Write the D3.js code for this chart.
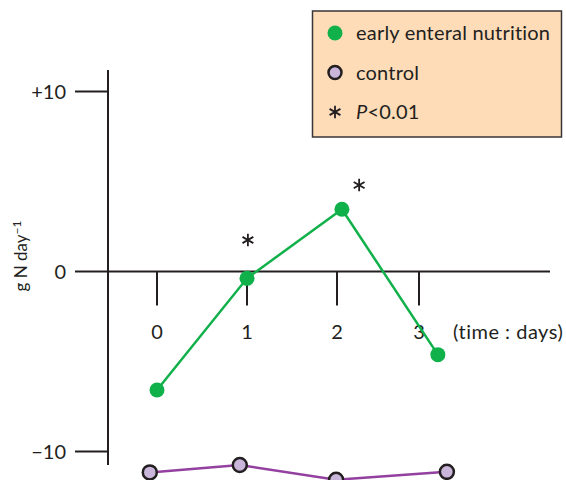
<!DOCTYPE html>
<html>
<head>
<meta charset="utf-8">
<script src="https://cdn.jsdelivr.net/npm/d3@7"></script>
<style>
    body { margin: 0; background: #ffffff; }
    svg { display: block; }
    text { font-family: Lato, "DejaVu Sans", sans-serif; fill: #231f20; }
</style>
</head>
<body>
<svg id="chart" width="566" height="480"></svg>
<script>
// data (time in days, g N per day)
let earlyDays   = [0, 1.0, 2.06, 3.23];
let earlyValues = [-6.58, -0.38, 3.46, -4.62];
let controlDays   = [-0.08, 0.92, 1.99, 3.34];
let controlValues = [-11.16, -10.75, -11.57, -11.13];
// significance markers
let sigDays   = [1.01, 2.27];
let sigValues = [1.75, 4.8];
// axis ticks
let xTicks = [0, 1, 2, 3];
let yTicks = [10, 0, -10];
let yTickLabels = ["+10", "0", "\u221210"];

let legendItems = ["early enteral nutrition", "control", "P<0.01"];

let chart = d3.select("#chart");
let ink = "#231f20";
let green = "#10b04a";
let purple = "#9440a0";

// x position scale (ticks are not evenly spaced in the original)
let x = d3.scaleLinear()
    .domain([0, 1, 2, 3])
    .range([157, 247, 337, 419]);

// y position scale
let y = d3.scaleLinear()
    .domain([-10, 10])
    .range([451.5, 91.5]);

// y axis line
chart.append("line")
    .attr("x1", 108).attr("x2", 108)
    .attr("y1", 70).attr("y2", 465)
    .attr("stroke", ink)
    .attr("stroke-width", 2);

// y ticks (the 0 tick is part of the x axis line)
chart.selectAll(".ytick")
    .data(yTicks.filter(function(d) { return d != 0; }))
    .enter()
    .append("line")
    .attr("class", "ytick")
    .attr("x1", 75).attr("x2", 108)
    .attr("y1", function(d) { return y(d); })
    .attr("y2", function(d) { return y(d); })
    .attr("stroke", ink)
    .attr("stroke-width", 2);

chart.selectAll(".ylabel")
    .data(yTicks)
    .enter()
    .append("text")
    .attr("class", "ylabel")
    .attr("x", 66)
    .attr("y", function(d) { return y(d); })
    .attr("dy", "0.36em")
    .style("font-size", "20px")
    .style("text-anchor", "end")
    .text(function(d, i) { return yTickLabels[i]; });

// x axis line at zero
chart.append("line")
    .attr("x1", 75).attr("x2", 550)
    .attr("y1", y(0)).attr("y2", y(0))
    .attr("stroke", ink)
    .attr("stroke-width", 2);

chart.selectAll(".xtick")
    .data(xTicks)
    .enter()
    .append("line")
    .attr("class", "xtick")
    .attr("x1", function(d) { return x(d); })
    .attr("x2", function(d) { return x(d); })
    .attr("y1", y(0))
    .attr("y2", y(0) + 34)
    .attr("stroke", ink)
    .attr("stroke-width", 2);

chart.selectAll(".xlabel")
    .data(xTicks)
    .enter()
    .append("text")
    .attr("class", "xlabel")
    .attr("x", function(d) { return x(d); })
    .attr("y", 332)
    .attr("dy", "0.36em")
    .style("font-size", "20px")
    .style("text-anchor", "middle")
    .text(function(d) { return d; });

chart.append("text")
    .attr("x", 453)
    .attr("y", 332)
    .attr("dy", "0.36em")
    .style("font-size", "20px")
    .style("letter-spacing", "0.5px")
    .text("(time : days)");

// y axis title
let ytitle = chart.append("text")
    .attr("transform", "translate(27,256) rotate(-90)")
    .style("font-size", "17px")
    .style("text-anchor", "middle");
ytitle.append("tspan").text("g N day");
ytitle.append("tspan")
    .attr("dy", "-0.5em")
    .style("font-size", "12px")
    .text("\u22121");

// lines
let line = d3.line()
    .x(function(d) { return x(d[0]); })
    .y(function(d) { return y(d[1]); });

chart.append("path")
    .datum(d3.zip(controlDays, controlValues))
    .attr("fill", "none")
    .attr("stroke", purple)
    .attr("stroke-width", 2.5)
    .attr("d", line);

chart.append("path")
    .datum(d3.zip(earlyDays, earlyValues))
    .attr("fill", "none")
    .attr("stroke", green)
    .attr("stroke-width", 2.5)
    .attr("d", line);

// points
chart.selectAll(".cpt")
    .data(d3.zip(controlDays, controlValues))
    .enter()
    .append("circle")
    .attr("class", "cpt")
    .attr("cx", function(d) { return x(d[0]); })
    .attr("cy", function(d) { return y(d[1]); })
    .attr("r", 7)
    .attr("fill", "#cbb6db")
    .attr("stroke", ink)
    .attr("stroke-width", 2.5);

chart.selectAll(".ept")
    .data(d3.zip(earlyDays, earlyValues))
    .enter()
    .append("circle")
    .attr("class", "ept")
    .attr("cx", function(d) { return x(d[0]); })
    .attr("cy", function(d) { return y(d[1]); })
    .attr("r", 7.5)
    .attr("fill", green);

// significance asterisks
let star = d3.symbol().type(d3.symbolAsterisk).size(110);
chart.selectAll(".sig")
    .data(d3.zip(sigDays, sigValues))
    .enter()
    .append("path")
    .attr("class", "sig")
    .attr("transform", function(d) { return "translate(" + x(d[0]) + "," + y(d[1]) + ")"; })
    .attr("d", star)
    .attr("fill", "none")
    .attr("stroke", ink)
    .attr("stroke-width", 1.8);

// legend
let legend = chart.append("g");
legend.append("rect")
    .attr("x", 312.5).attr("y", 11)
    .attr("width", 249).attr("height", 126)
    .attr("fill", "#fedcb8")
    .attr("stroke", "#3a3536")
    .attr("stroke-width", 1.5);

let legendY = d3.scalePoint()
    .domain(legendItems)
    .range([33, 112]);

legend.append("circle")
    .attr("cx", 335).attr("cy", legendY(legendItems[0]))
    .attr("r", 7.5)
    .attr("fill", green);
legend.append("circle")
    .attr("cx", 335).attr("cy", legendY(legendItems[1]))
    .attr("r", 6.5)
    .attr("fill", "#cbb6db")
    .attr("stroke", ink)
    .attr("stroke-width", 2.5);
legend.append("path")
    .attr("transform", "translate(335," + legendY(legendItems[2]) + ")")
    .attr("d", star)
    .attr("fill", "none")
    .attr("stroke", ink)
    .attr("stroke-width", 1.8);

legend.selectAll(".ltext")
    .data(legendItems.slice(0, 2))
    .enter()
    .append("text")
    .attr("class", "ltext")
    .attr("x", 356)
    .attr("y", function(d) { return legendY(d); })
    .attr("dy", "0.36em")
    .style("font-size", "20px")
    .style("letter-spacing", "0.2px")
    .text(function(d) { return d; });

let pText = legend.append("text")
    .attr("x", 356)
    .attr("y", legendY(legendItems[2]))
    .attr("dy", "0.36em")
    .style("font-size", "20px")
    .style("letter-spacing", "0.2px");
pText.append("tspan").style("font-style", "italic").text("P");
pText.append("tspan").text("<0.01");
</script>
</body>
</html>
